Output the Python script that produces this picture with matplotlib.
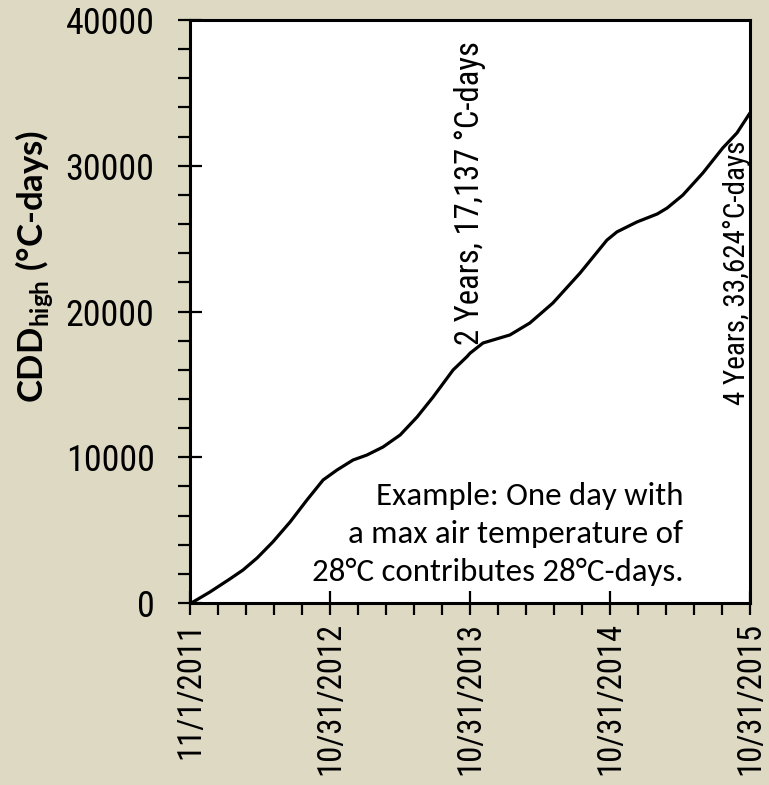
import matplotlib
matplotlib.use("Agg")
import matplotlib.pyplot as plt
import matplotlib.dates as mdates
import matplotlib.ticker as mticker
import pandas as pd
import numpy as np

# ---- data ----
dates = ["2011-11-01", "2011-11-09", "2011-12-23", "2012-02-13", "2012-03-18",
         "2012-04-24", "2012-06-04", "2012-07-19", "2012-09-01", "2012-10-13",
         "2012-11-18", "2012-12-30", "2013-02-04", "2013-03-18", "2013-05-02",
         "2013-06-15", "2013-07-27", "2013-09-17", "2013-10-23", "2013-10-31",
         "2013-12-04", "2014-02-12", "2014-04-05", "2014-06-04", "2014-08-14",
         "2014-10-23", "2014-11-18", "2015-01-09", "2015-03-03", "2015-03-29",
         "2015-05-09", "2015-06-30", "2015-08-21", "2015-09-27", "2015-10-31"]
cdd = [0, 69, 755, 1650, 2260,
       3090, 4190, 5560, 7070, 8440,
       9120, 9810, 10150, 10700, 11530,
       12760, 14140, 15990, 16900, 17137,
       17840, 18390, 19210, 20580, 22640,
       24900, 25460, 26140, 26690, 27100,
       27990, 29500, 31220, 32250, 33624]
tick_dates = ["2011-11-01", "2012-10-31", "2013-10-31", "2014-10-31", "2015-10-31"]
tick_labels = ["11/1/2011", "10/31/2012", "10/31/2013", "10/31/2014", "10/31/2015"]
y_ticks = [0, 10000, 20000, 30000, 40000]
label_2yr = "2 Years, 17,137 \u00b0C-days"
label_4yr = "4 Years, 33,624\u00b0C-days"
example_text = "Example: One day with\na max air temperature of\n28\u00b0C contributes 28\u00b0C-days."
ylabel_text = "CDD$_{\\mathbf{high}}$ (\u00b0C-days)"

BG = "#ddd9c3"
NARROW = ["Liberation Sans Narrow", "Roboto Condensed", "Archivo Narrow", "DejaVu Sans"]
CALIBRI = ["Carlito", "Lato", "DejaVu Sans"]
plt.rcParams['mathtext.fontset'] = 'custom'
plt.rcParams['mathtext.bf'] = 'Lato:bold'
plt.rcParams['mathtext.rm'] = 'Lato'

fig = plt.figure(figsize=(7.69, 7.85), dpi=100, facecolor=BG)
ax = fig.add_axes([190/769, 1-603/785, 560/769, 583/785])
ax.set_facecolor("white")

x = pd.to_datetime(dates)
ax.plot(x, cdd, color="black", lw=2.3, solid_joinstyle="round", solid_capstyle="round")

tx = pd.to_datetime(tick_dates)
ax.set_xlim(tx[0], tx[-1])
ax.set_ylim(0, 40000)

tn = mdates.date2num(tx)
ax.xaxis.set_major_locator(mticker.FixedLocator(tn))
ax.xaxis.set_major_formatter(mticker.FixedFormatter(tick_labels))
ax.xaxis.set_minor_locator(mticker.FixedLocator(np.linspace(tn[0], tn[-1], 4*5 + 1)))
ax.yaxis.set_major_locator(mticker.FixedLocator(y_ticks))
ax.yaxis.set_major_formatter(mticker.FuncFormatter(lambda v, p: f"{int(v)}"))
ax.yaxis.set_minor_locator(mticker.MultipleLocator(2000))

ax.tick_params(axis="both", which="major", direction="inout", length=17, width=1.6, colors="black")
ax.tick_params(axis="both", which="minor", direction="out", length=8.5, width=1.6)
ax.tick_params(axis="y", which="major", pad=17)
ax.tick_params(axis="x", which="major", pad=5)

for lab in ax.get_yticklabels():
    lab.set_family(NARROW)
    lab.set_fontsize(26)
for lab in ax.get_xticklabels():
    lab.set_family(NARROW)
    lab.set_fontsize(23.5)
    lab.set_rotation(90)

for s in ax.spines.values():
    s.set_linewidth(2.2)
    s.set_color("black")

ax.text(0.5, 0.4425, label_2yr, transform=ax.transAxes, rotation=90,
        ha="center", va="bottom", family=NARROW, fontsize=23.5)
ax.text(0.977, 0.34, label_4yr, transform=ax.transAxes, rotation=90,
        ha="center", va="bottom", family=NARROW, fontsize=21)
ax.text(0.881, 0.0377, example_text, transform=ax.transAxes, ha="right", va="baseline",
        multialignment="right", family=CALIBRI, fontsize=23.7, linespacing=1.42)

fig.text(34/769, 1-266/785, ylabel_text, rotation=90,
         ha="center", va="center", family="Lato", fontweight="bold", fontsize=25)

fig.savefig("out.png", dpi=100, facecolor=BG)
